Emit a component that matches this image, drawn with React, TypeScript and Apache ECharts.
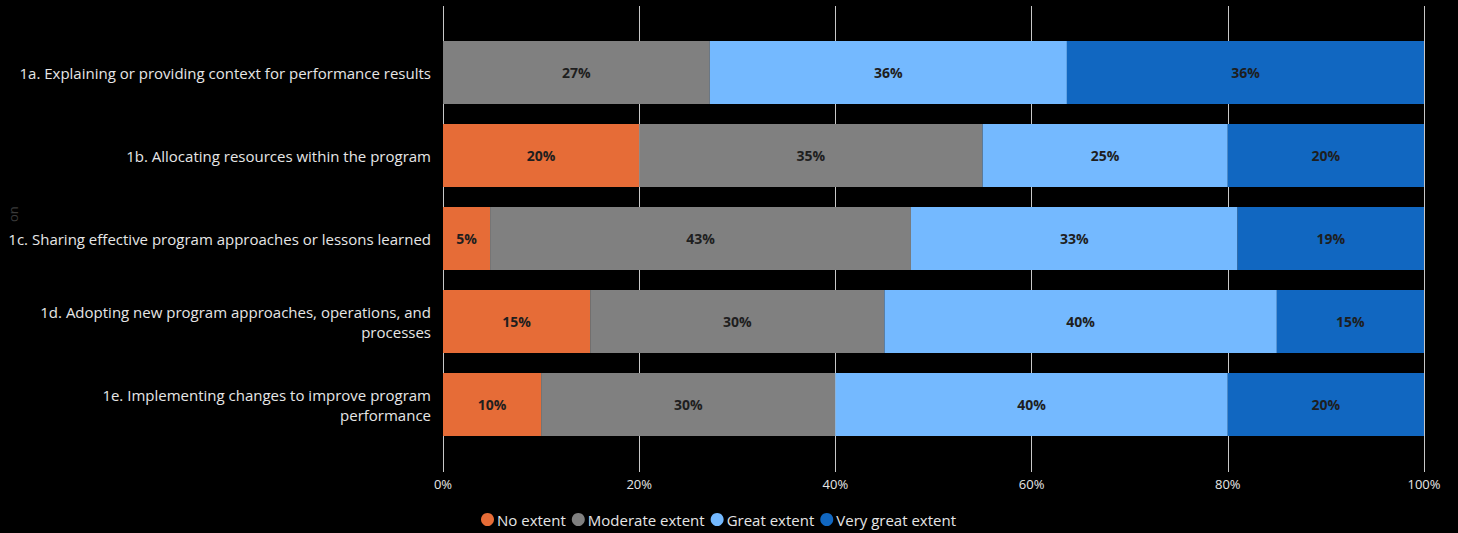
import React, { useEffect, useRef } from "react";
import * as echarts from "echarts";

const categories = [
  "1a. Explaining or providing context for performance results",
  "1b. Allocating resources within the program",
  "1c. Sharing effective program approaches or lessons learned",
  "1d. Adopting new program approaches, operations, and\nprocesses",
  "1e. Implementing changes to improve program\nperformance",
];
const seriesNames = ["No extent", "Moderate extent", "Great extent", "Very great extent"];
const noExtent = [0, 20, 4.8, 15, 10];
const moderateExtent = [27.2, 35, 42.9, 30, 30];
const greatExtent = [36.4, 25, 33.3, 40, 40];
const veryGreatExtent = [36.4, 20, 19.0, 15, 20];
const colors = ["#E66C37", "#808080", "#74B9FF", "#1167C1"];
const tickValues = [0, 20, 40, 60, 80, 100];

const FONT = "'Open Sans', 'Noto Sans', sans-serif";

export default function App() {
  const ref = useRef<HTMLDivElement>(null);
  useEffect(() => {
    document.body.style.margin = "0";
    document.body.style.background = "#000";
    const chart = echarts.init(ref.current!, null, { renderer: "svg" });
    const data = [noExtent, moderateExtent, greatExtent, veryGreatExtent];
    const xAxisBase = {
      type: "value",
      min: tickValues[0],
      max: tickValues[tickValues.length - 1],
      interval: tickValues[1] - tickValues[0],
      axisLine: { show: false },
    };
    chart.setOption({
      animation: false,
      backgroundColor: "#000000",
      textStyle: { fontFamily: FONT },
      grid: { left: 443, right: 34, top: 31, bottom: 87, containLabel: false },
      legend: {
        left: 476,
        top: 507,
        itemGap: 6,
        itemWidth: 13,
        itemHeight: 13,
        icon: "circle",
        textStyle: { color: "#e6e6e6", fontSize: 15, fontFamily: FONT, padding: [0, 0, 0, -2] },
        data: seriesNames,
      },
      xAxis: [
        {
          ...xAxisBase,
          position: "bottom",
          axisTick: { show: true, length: 26, lineStyle: { color: "#c8c8c8", width: 1 } },
          axisLabel: {
            color: "#e6e6e6",
            fontSize: 13,
            margin: 31,
            fontFamily: FONT,
            formatter: (v: number) => v + "%",
          },
          splitLine: { show: true, lineStyle: { color: "#c8c8c8", width: 1 } },
        },
        {
          ...xAxisBase,
          position: "top",
          axisTick: { show: true, length: 25, lineStyle: { color: "#c8c8c8", width: 1 } },
          axisLabel: { show: false },
          splitLine: { show: false },
        },
      ],
      yAxis: {
        type: "category",
        inverse: true,
        data: categories,
        axisLine: { show: false },
        axisTick: { show: false },
        axisLabel: {
          color: "#e6e6e6",
          fontSize: 15,
          margin: 12,
          lineHeight: 20,
          fontFamily: FONT,
          padding: [0, 0, 2, 0],
        },
      },
      series: seriesNames.map((name, i) => ({
        name,
        type: "bar",
        stack: "total",
        barCategoryGap: "24%",
        itemStyle: { color: colors[i] },
        label: {
          show: true,
          position: "inside",
          color: "#1e1e1e",
          fontSize: 14,
          fontWeight: "bold",
          fontFamily: FONT,
          formatter: (p: any) => (p.value > 0 ? Math.round(p.value) + "%" : ""),
        },
        data: data[i],
      })),
      graphic: [
        {
          type: "text",
          x: 6,
          y: 222,
          rotation: Math.PI / 2,
          style: { text: "on", fill: "#3a3a3a", fontSize: 13, fontFamily: FONT },
        },
      ],
    });
    return () => chart.dispose();
  }, []);
  return <div ref={ref} style={{ width: 1458, height: 533 }} />;
}
